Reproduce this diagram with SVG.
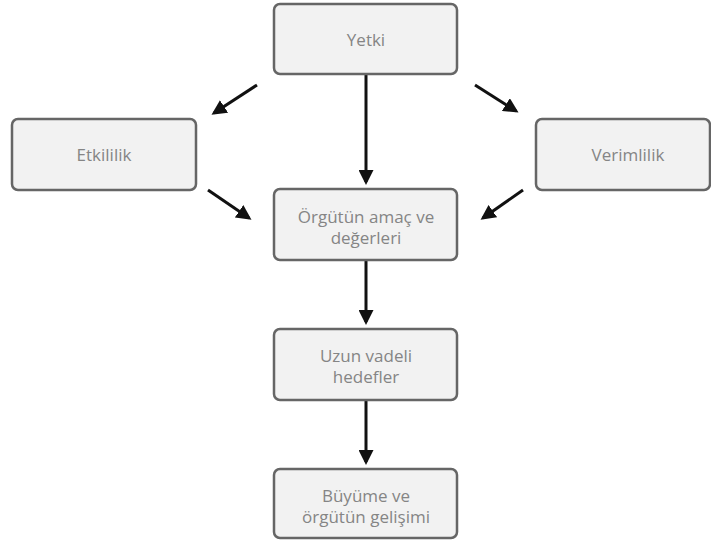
<svg xmlns="http://www.w3.org/2000/svg" width="711" height="542" viewBox="0 0 711 542">
<style>
.box{fill:#f2f2f2;stroke:#666;stroke-width:2.5}
.t{font-family:"Open Sans","Noto Sans",sans-serif;font-size:17px;fill:#858585;text-anchor:middle}
.c{stroke:#111;stroke-width:3;fill:none;marker-end:url(#ah)}
</style>
<defs>
<marker id="ah" markerWidth="5" markerHeight="5" refX="4" refY="2.5" orient="auto" markerUnits="strokeWidth">
<path d="M0,0 L5,2.5 L0,5 Z" fill="#111"/>
</marker>
</defs>
<rect width="711" height="542" fill="#fff"/>
<g id="connectors">
<line class="c" x1="366" y1="75" x2="366" y2="182"/>
<line class="c" x1="257" y1="85" x2="214" y2="113"/>
<line class="c" x1="208" y1="190" x2="249" y2="218"/>
<line class="c" x1="475" y1="85" x2="516" y2="111"/>
<line class="c" x1="523" y1="190" x2="483" y2="218"/>
<line class="c" x1="366" y1="261" x2="366" y2="322"/>
<line class="c" x1="366" y1="401" x2="366" y2="462"/>
</g>
<g id="yetki"><rect class="box" x="274" y="4" width="183" height="70" rx="6"/><text class="t" x="366" y="46">Yetki</text></g>
<g id="etkililik"><rect class="box" x="12" y="119" width="184" height="71" rx="6"/><text class="t" x="104" y="161">Etkililik</text></g>
<g id="verimlilik"><rect class="box" x="536" y="119" width="174" height="71" rx="6"/><text class="t" x="628" y="161">Verimlilik</text></g>
<g id="orgutun"><rect class="box" x="274" y="189" width="183" height="71" rx="6"/><text class="t" x="366" y="223">Örgütün amaç ve</text><text class="t" x="366" y="244">değerleri</text></g>
<g id="uzun"><rect class="box" x="274" y="329" width="183" height="71" rx="6"/><text class="t" x="366" y="362">Uzun vadeli</text><text class="t" x="366" y="383">hedefler</text></g>
<g id="buyume"><rect class="box" x="274" y="469" width="183" height="69" rx="6"/><text class="t" x="366" y="502">Büyüme ve</text><text class="t" x="366" y="523">örgütün gelişimi</text></g>
</svg>
